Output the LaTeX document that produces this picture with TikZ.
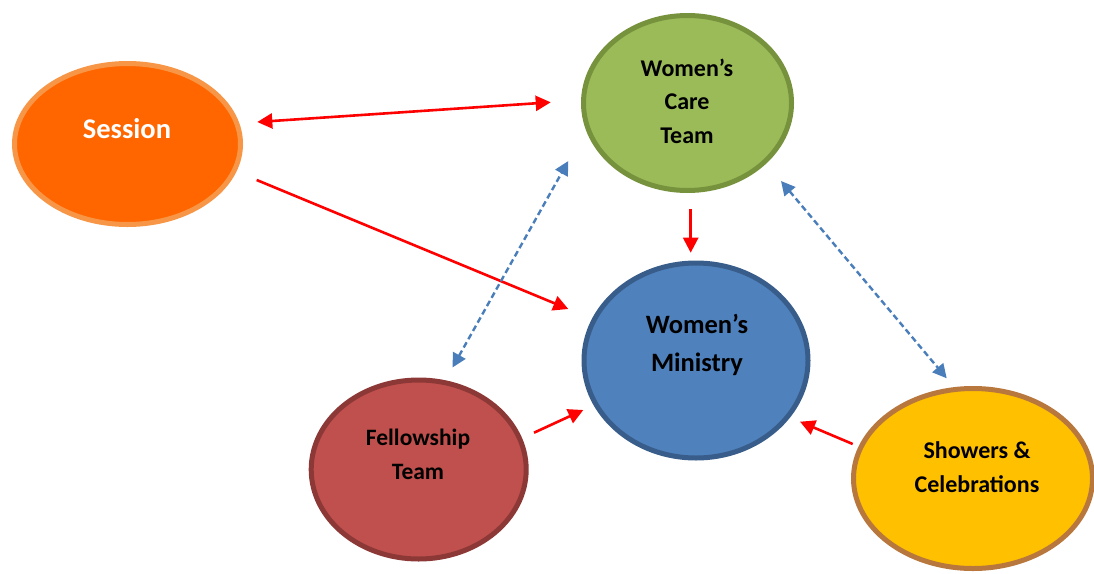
\documentclass[tikz,border=0pt]{standalone}
\usepackage{fontspec}
\setmainfont{Carlito}
\usepackage{tikz}
\usetikzlibrary{arrows.meta}
\usetikzlibrary{shapes.geometric}
\definecolor{sesfill}{HTML}{FF6600}
\definecolor{sesline}{HTML}{F79646}
\definecolor{carefill}{HTML}{9BBB59}
\definecolor{careline}{HTML}{76923C}
\definecolor{minfill}{HTML}{4F81BD}
\definecolor{minline}{HTML}{385D8A}
\definecolor{felfill}{HTML}{C0504D}
\definecolor{felline}{HTML}{8C3836}
\definecolor{shofill}{HTML}{FFC000}
\definecolor{sholine}{HTML}{B8773D}
\definecolor{linkblue}{HTML}{4A7EBB}
\tikzset{
    blob/.style = {ellipse, draw, line width=5pt, inner sep=0pt},
    caption/.style = {align=center, font=\bfseries},
    push/.style = {red, line width=2.6pt, -{Triangle[length=15pt,width=15pt]}},
    pushboth/.style = {push, {Triangle[length=15pt,width=15pt]}-{Triangle[length=15pt,width=15pt]}},
    liaise/.style = {linkblue, line width=2.4pt, dash pattern=on 6pt off 3.5pt,
        {Triangle[length=14pt,width=14pt]}-{Triangle[length=14pt,width=14pt]}},
}
\begin{document}
\begin{tikzpicture}[x=1pt,y=-1pt]
\useasboundingbox (0,0) rectangle (1094,573);
% the five groups
\node[blob, fill=sesfill, draw=sesline, minimum width=226pt, minimum height=161pt] (ses) at (127.5,144) {};
\node[blob, fill=carefill, draw=careline, minimum width=208pt, minimum height=175pt] (care) at (687.5,103) {};
\node[blob, fill=minfill, draw=minline, minimum width=224pt, minimum height=195pt] (min) at (696,360.5) {};
\node[blob, fill=felfill, draw=felline, minimum width=215pt, minimum height=179pt] (fel) at (418.7,469.5) {};
\node[blob, fill=shofill, draw=sholine, minimum width=239pt, minimum height=180pt] (sho) at (973,478.5) {};
% their names
\node[caption, white, font=\bfseries\fontsize{28.5}{32}\selectfont] (ses text) at (127,129) {Session};
\node[caption, font=\bfseries\fontsize{24}{33.5}\selectfont] (care text) at (687,101) {Women’s\\Care\\Team};
\node[caption, font=\bfseries\fontsize{26.5}{37.5}\selectfont] (min text) at (697,345) {Women’s\\Ministry};
\node[caption, font=\bfseries\fontsize{23.5}{33.5}\selectfont] (fel text) at (418,454.5) {Fellowship\\Team};
\node[caption, font=\bfseries\fontsize{24}{34}\selectfont] (sho text) at (977,467) {Showers \&\\Celebrations};
% arrow ends
\coordinate (ses-a) at (257.3,122);
\coordinate (care-a) at (550.7,102.3);
\coordinate (ses-b) at (256.7,180);
\coordinate (min-b) at (568.3,309);
\coordinate (care-c) at (690.7,209.3);
\coordinate (min-c) at (690.7,252.7);
\coordinate (fel-d) at (534,432.7);
\coordinate (min-d) at (583.3,410);
\coordinate (sho-e) at (852.7,444);
\coordinate (min-e) at (800,421.7);
\coordinate (fel-f) at (452.5,367.5);
\coordinate (care-f) at (568.3,161);
\coordinate (care-g) at (781,181);
\coordinate (sho-g) at (946.7,378.3);
% reporting lines
\draw[pushboth] (ses-a) -- (care-a);
\draw[push] (ses-b) -- (min-b);
\draw[push] (care-c) -- (min-c);
\draw[push] (fel-d) -- (min-d);
\draw[push] (sho-e) -- (min-e);
% liaison
\draw[liaise] (fel-f) -- (care-f);
\draw[liaise] (care-g) -- (sho-g);
\end{tikzpicture}
\end{document}
